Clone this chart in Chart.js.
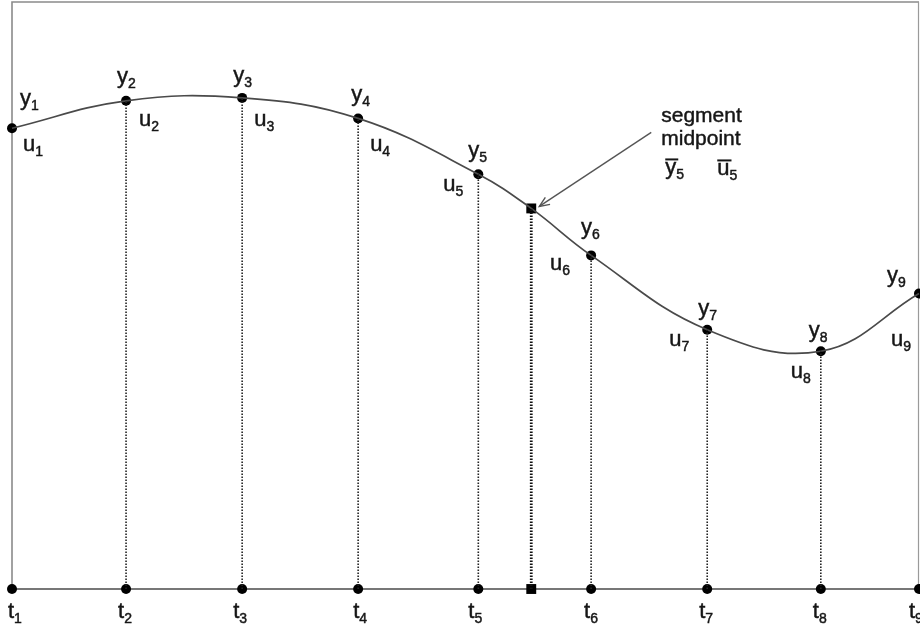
<!DOCTYPE html>
<html>
<head>
<meta charset="utf-8">
<script src="https://cdn.jsdelivr.net/npm/chart.js@4/dist/chart.umd.min.js"></script>
<style>
  html, body { margin: 0; padding: 0; background: #fff; }
  canvas { display: block; }
</style>
</head>
<body>
<canvas id="c" width="920" height="628"></canvas>
<script>
// Knot times and state values of the collocation grid
const knotT = [0, 1.006, 2.03, 3.053, 4.113, 5.108, 6.132, 7.134, 8.0];
const knotY = [4.71, 4.99, 5.02, 4.81, 4.24, 3.41, 2.65, 2.43, 3.02];
const knotSub = ['1', '2', '3', '4', '5', '6', '7', '8', '9'];
// Midpoint of segment 5
const midT = 4.58;
const midY = 3.89;
const noteLines = ['segment', 'midpoint'];

// Label placement (pixel offsets from each knot): [dx, dy] to the text baseline start
const yLabelOff = [[8, -23], [-9, -18], [-9, -16], [-7, -17], [-10, -17], [-10, -21], [-9, -15], [-12, -14], [-32, -12]];
const uLabelOff = [[11, 23], [13, 25], [12, 28], [12, 33], [-35, 17], [-41, 15], [-38, 16], [-30, 27], [-28, 52]];
const tLabelOff = [[-4, 29], [-8, 29], [-9, 29], [-5, 29], [-10, 29], [-7, 29], [-8, 29], [-8, 29], [-10, 29]];

const FONT = 'Arial, "Liberation Sans", sans-serif';
const TEXT = '#161616';

// Curve through all knots plus the segment midpoint
const curvePts = [];
knotT.forEach((t, i) => {
  curvePts.push({ x: t, y: knotY[i] });
  if (i === 4) curvePts.push({ x: midT, y: midY });
});

const datasets = [];
// dotted drop lines from knots to the time axis
knotT.forEach((t, i) => {
  if (i === 0 || i === knotT.length - 1) return;
  datasets.push({
    type: 'scatter', showLine: true, clip: false,
    data: [{ x: t, y: 0 }, { x: t, y: knotY[i] }],
    borderColor: '#222', borderWidth: 1.6, borderDash: [1.5, 1.5],
    pointRadius: 0
  });
});
datasets.push({
  type: 'scatter', showLine: true, clip: false,
  data: [{ x: midT, y: 0 }, { x: midT, y: midY }],
  borderColor: '#111', borderWidth: 2.8, borderDash: [1.6, 1.4],
  pointRadius: 0
});
// interpolating curve
datasets.push({
  type: 'scatter', showLine: true, clip: false,
  data: curvePts,
  borderColor: '#4a4a4a', borderWidth: 1.7, tension: 0.4,
  pointRadius: 0
});
// knot markers on the curve and on the time axis
datasets.push({
  type: 'scatter', clip: false,
  data: knotT.map((t, i) => ({ x: t, y: knotY[i] })),
  backgroundColor: '#000', borderColor: '#000', pointRadius: 5, borderWidth: 0
});
datasets.push({
  type: 'scatter', clip: false,
  data: knotT.map(t => ({ x: t, y: 0 })),
  backgroundColor: '#000', borderColor: '#000', pointRadius: 5, borderWidth: 0
});
datasets.push({
  type: 'scatter', clip: false,
  data: [{ x: midT, y: midY }, { x: midT, y: 0 }],
  pointStyle: 'rect', backgroundColor: '#000', borderColor: '#000', pointRadius: 7, borderWidth: 0
});

function boldText(ctx, s, x, y) {
  ctx.fillText(s, x, y);
  ctx.strokeText(s, x, y);
}

function drawSub(ctx, main, sub, x, base, bar) {
  ctx.fillStyle = TEXT;
  ctx.strokeStyle = TEXT;
  ctx.lineWidth = 0.45;
  ctx.textBaseline = 'alphabetic';
  ctx.textAlign = 'left';
  ctx.font = '22px ' + FONT;
  boldText(ctx, main, x, base);
  const w = ctx.measureText(main).width;
  ctx.font = '14px ' + FONT;
  boldText(ctx, sub, x + w, base + 5);
  if (bar) {
    ctx.lineWidth = 2;
    ctx.beginPath();
    ctx.moveTo(x, base - 15);
    ctx.lineTo(x + w + 2, base - 15);
    ctx.stroke();
  }
}

const framePlugin = {
  id: 'frame',
  beforeDatasetsDraw(chart) {
    const { ctx, chartArea: a } = chart;
    ctx.save();
    ctx.strokeStyle = '#8a8a8a';
    ctx.lineWidth = 1.6;
    ctx.beginPath();
    ctx.moveTo(a.left, a.bottom);
    ctx.lineTo(a.left, a.top);
    ctx.lineTo(a.right, a.top);
    ctx.stroke();
    ctx.strokeStyle = '#9a9a9a';
    ctx.lineWidth = 1.2;
    ctx.beginPath();
    ctx.moveTo(a.right - 0.5, a.top);
    ctx.lineTo(a.right - 0.5, a.bottom);
    ctx.stroke();
    ctx.strokeStyle = '#777';
    ctx.lineWidth = 2;
    ctx.beginPath();
    ctx.moveTo(a.left, a.bottom);
    ctx.lineTo(chart.width, a.bottom);
    ctx.stroke();
    ctx.restore();
  },
  afterDatasetsDraw(chart) {
    const { ctx, scales: { x, y } } = chart;
    ctx.save();
    knotT.forEach((t, i) => {
      const px = x.getPixelForValue(t), py = y.getPixelForValue(knotY[i]);
      const p0 = y.getPixelForValue(0);
      drawSub(ctx, 'y', knotSub[i], px + yLabelOff[i][0], py + yLabelOff[i][1]);
      drawSub(ctx, 'u', knotSub[i], px + uLabelOff[i][0], py + uLabelOff[i][1]);
      drawSub(ctx, 't', knotSub[i], px + tLabelOff[i][0], p0 + tLabelOff[i][1]);
    });
    // annotation for the segment midpoint
    const mx = x.getPixelForValue(midT), my = y.getPixelForValue(midY);
    ctx.fillStyle = TEXT;
    ctx.strokeStyle = TEXT;
    ctx.lineWidth = 0.45;
    ctx.font = '21px ' + FONT;
    ctx.textAlign = 'left';
    ctx.textBaseline = 'alphabetic';
    noteLines.forEach((s, k) => boldText(ctx, s, mx + 130, my - 86 + k * 23));
    drawSub(ctx, 'y', '5', mx + 134, my - 34, true);
    drawSub(ctx, 'u', '5', mx + 186, my - 33, true);
    // arrow pointing at the midpoint
    const tipX = mx + 8, tipY = my - 2;
    const tailX = mx + 120, tailY = my - 76;
    ctx.strokeStyle = '#555';
    ctx.lineWidth = 1.4;
    ctx.beginPath();
    ctx.moveTo(tailX, tailY);
    ctx.lineTo(tipX, tipY);
    ctx.stroke();
    const ang = Math.atan2(tipY - tailY, tipX - tailX);
    const hl = 11;
    ctx.beginPath();
    ctx.moveTo(tipX - hl * Math.cos(ang - 0.4), tipY - hl * Math.sin(ang - 0.4));
    ctx.lineTo(tipX, tipY);
    ctx.lineTo(tipX - hl * Math.cos(ang + 0.4), tipY - hl * Math.sin(ang + 0.4));
    ctx.stroke();
    ctx.restore();
  }
};

new Chart(document.getElementById('c'), {
  type: 'scatter',
  data: { datasets },
  options: {
    responsive: false,
    animation: false,
    layout: { autoPadding: false, padding: { left: 12, right: 1, top: 2, bottom: 39 } },
    plugins: { legend: { display: false }, tooltip: { enabled: false } },
    scales: {
      x: { type: 'linear', min: 0, max: 8, display: false },
      y: { type: 'linear', min: 0, max: 6, display: false }
    }
  },
  plugins: [framePlugin]
});
</script>
</body>
</html>
